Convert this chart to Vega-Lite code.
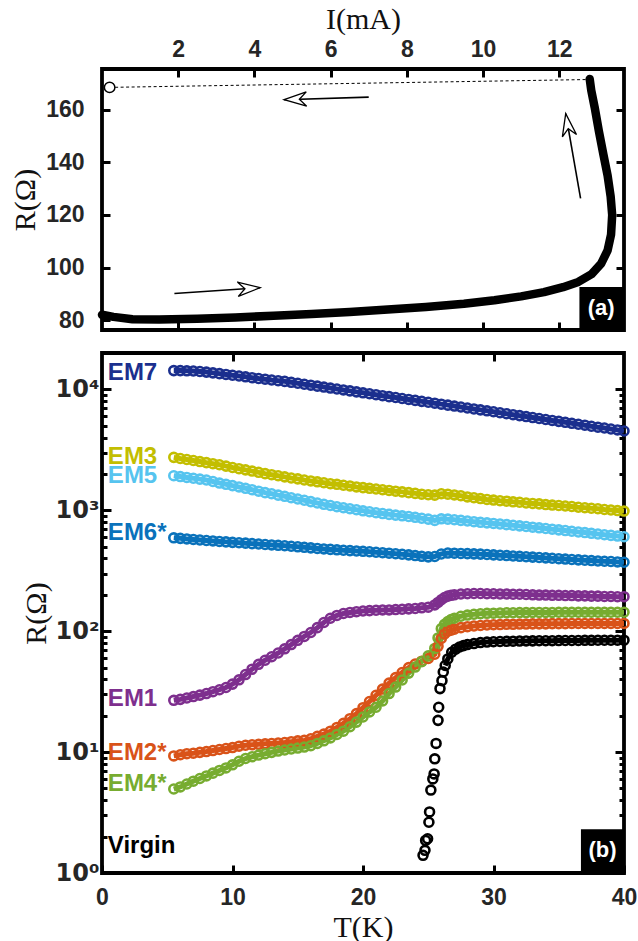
{
 "$schema": "https://vega.github.io/schema/vega-lite/v6.json",
 "background": "white",
 "padding": {"left": 8, "top": 2, "right": 4, "bottom": 2},
 "spacing": 15,
 "config": {
  "view": {"stroke": "black", "strokeWidth": 3.8},
  "axis": {
   "domain": false, "grid": false,
   "labelFont": "Liberation Sans, DejaVu Sans", "labelFontWeight": "bold", "labelFontSize": 23, "labelColor": "#262626",
   "labelFlush": false, "labelOverlap": false,
   "titleFont": "Liberation Serif", "titleFontWeight": "normal", "titleFontSize": 30, "titleColor": "#111111",
   "tickColor": "black", "tickWidth": 3, "tickSize": -8, "labelPadding": 18, "titlePadding": 8
  }
 },
 "datasets": {
  "curve": [
   {"k":0,"I":0,"R":82.0},{"k":1,"I":0.3,"R":81.2},{"k":2,"I":0.8,"R":80.3},{"k":3,"I":1.5,"R":80.2},
   {"k":4,"I":2.5,"R":80.5},{"k":5,"I":3.5,"R":81.0},{"k":6,"I":4.5,"R":81.6},{"k":7,"I":5.5,"R":82.3},
   {"k":8,"I":6.5,"R":83.1},{"k":9,"I":7.5,"R":84.0},{"k":10,"I":8.5,"R":85.0},{"k":11,"I":9.5,"R":86.2},
   {"k":12,"I":10.3,"R":87.5},{"k":13,"I":11.0,"R":89.0},{"k":14,"I":11.6,"R":90.6},{"k":15,"I":12.1,"R":92.5},
   {"k":16,"I":12.5,"R":94.5},{"k":17,"I":12.85,"R":97.5},{"k":18,"I":13.1,"R":101.5},{"k":19,"I":13.27,"R":106.5},
   {"k":20,"I":13.36,"R":112.5},{"k":21,"I":13.39,"R":120},{"k":22,"I":13.35,"R":127},{"k":23,"I":13.27,"R":135},
   {"k":24,"I":13.16,"R":143},{"k":25,"I":13.04,"R":152},{"k":26,"I":12.93,"R":161},{"k":27,"I":12.84,"R":167.5},
   {"k":28,"I":12.8,"R":171.8}
  ],
  "dash": [{"I":0.2,"R":168.6},{"I":12.8,"R":171.6}],
  "circ": [{"I":0.2,"R":168.6}],
  "arrows": [
   {"id":"a1","I":7.0,"R":164.9,"I2":4.78,"R2":163.9},
   {"id":"a2","I":1.9,"R":90.1,"I2":4.15,"R2":92.3},
   {"id":"a3","I":12.56,"R":126.3,"I2":12.17,"R2":158.6}
  ],
  "boxa": [{"I":12.53,"I2":13.7,"R":76.2,"R2":92.6,"txt":"(a)","Ic":13.1,"Rc":84.4}],
  "boxb": [{"T":36.7,"T2":40,"R":1,"R2":2.3,"txt":"(b)","Tc":38.35,"Rc":1.55}],
  "labels": [
   {"key":"EM7","txt":"EM7","T":0.45,"R":13740},
   {"key":"EM3","txt":"EM3","T":0.45,"R":2750},
   {"key":"EM5","txt":"EM5","T":0.45,"R":1935},
   {"key":"EM6","txt":"EM6*","T":0.45,"R":653},
   {"key":"EM1","txt":"EM1","T":0.45,"R":27.4},
   {"key":"EM2","txt":"EM2*","T":0.45,"R":9.77},
   {"key":"EM4","txt":"EM4*","T":0.45,"R":5.46},
   {"key":"Virgin","txt":"Virgin","T":0.45,"R":1.67}
  ],
  "em": [
   {"T":5.5,"EM7":14300,"EM3":2740,"EM5":1930,"EM6":592,"EM1":26.8,"EM2":9.3,"EM4":4.95},
   {"T":6,"EM7":14300,"EM3":2680,"EM5":1900,"EM6":586,"EM1":27.3,"EM2":9.5,"EM4":5.15},
   {"T":6.5,"EM7":14250,"EM3":2630,"EM5":1870,"EM6":580,"EM1":28.0,"EM2":9.7,"EM4":5.45},
   {"T":7,"EM7":14200,"EM3":2580,"EM5":1840,"EM6":574,"EM1":28.8,"EM2":9.8,"EM4":5.75},
   {"T":7.5,"EM7":14050,"EM3":2530,"EM5":1810,"EM6":568,"EM1":29.6,"EM2":9.95,"EM4":6.05},
   {"T":8,"EM7":13900,"EM3":2480,"EM5":1780,"EM6":563,"EM1":30.5,"EM2":10.1,"EM4":6.35},
   {"T":8.5,"EM7":13700,"EM3":2430,"EM5":1730,"EM6":558,"EM1":31.6,"EM2":10.3,"EM4":6.7},
   {"T":9,"EM7":13500,"EM3":2380,"EM5":1680,"EM6":553,"EM1":32.8,"EM2":10.5,"EM4":7.05},
   {"T":9.5,"EM7":13300,"EM3":2320,"EM5":1640,"EM6":548,"EM1":34.2,"EM2":10.7,"EM4":7.4},
   {"T":10,"EM7":13100,"EM3":2260,"EM5":1600,"EM6":543,"EM1":36.5,"EM2":10.9,"EM4":7.85},
   {"T":10.5,"EM7":12900,"EM3":2210,"EM5":1560,"EM6":539,"EM1":39.6,"EM2":11.2,"EM4":8.4},
   {"T":11,"EM7":12700,"EM3":2160,"EM5":1520,"EM6":535,"EM1":43.8,"EM2":11.4,"EM4":8.85},
   {"T":11.5,"EM7":12500,"EM3":2110,"EM5":1480,"EM6":530,"EM1":48.5,"EM2":11.5,"EM4":9.15},
   {"T":12,"EM7":12300,"EM3":2060,"EM5":1440,"EM6":526,"EM1":53.2,"EM2":11.6,"EM4":9.45},
   {"T":12.5,"EM7":12150,"EM3":2010,"EM5":1400,"EM6":521,"EM1":57.5,"EM2":11.7,"EM4":9.7},
   {"T":13,"EM7":11950,"EM3":1970,"EM5":1370,"EM6":517,"EM1":61.5,"EM2":11.8,"EM4":9.95},
   {"T":13.5,"EM7":11800,"EM3":1930,"EM5":1335,"EM6":513,"EM1":66.0,"EM2":11.9,"EM4":10.2},
   {"T":14,"EM7":11650,"EM3":1890,"EM5":1305,"EM6":509,"EM1":71.5,"EM2":12.0,"EM4":10.4},
   {"T":14.5,"EM7":11440,"EM3":1850,"EM5":1270,"EM6":504,"EM1":77.5,"EM2":12.2,"EM4":10.6},
   {"T":15,"EM7":11240,"EM3":1820,"EM5":1240,"EM6":499,"EM1":84.0,"EM2":12.4,"EM4":10.8},
   {"T":15.5,"EM7":11030,"EM3":1780,"EM5":1210,"EM6":494,"EM1":90.5,"EM2":12.5,"EM4":11.0},
   {"T":16,"EM7":10840,"EM3":1750,"EM5":1180,"EM6":489,"EM1":97.5,"EM2":12.9,"EM4":11.3},
   {"T":16.5,"EM7":10640,"EM3":1720,"EM5":1150,"EM6":484,"EM1":107,"EM2":13.5,"EM4":11.8},
   {"T":17,"EM7":10450,"EM3":1690,"EM5":1120,"EM6":479,"EM1":118,"EM2":14.1,"EM4":12.4},
   {"T":17.5,"EM7":10260,"EM3":1660,"EM5":1095,"EM6":475,"EM1":128,"EM2":14.9,"EM4":13.1},
   {"T":18,"EM7":10080,"EM3":1640,"EM5":1070,"EM6":471,"EM1":135,"EM2":16.0,"EM4":14.0},
   {"T":18.5,"EM7":9900,"EM3":1610,"EM5":1050,"EM6":467,"EM1":140,"EM2":17.3,"EM4":14.9},
   {"T":19,"EM7":9720,"EM3":1590,"EM5":1030,"EM6":464,"EM1":143,"EM2":18.9,"EM4":16.2},
   {"T":19.5,"EM7":9540,"EM3":1560,"EM5":1010,"EM6":461,"EM1":145,"EM2":20.8,"EM4":17.7},
   {"T":20,"EM7":9370,"EM3":1540,"EM5":990,"EM6":458,"EM1":147,"EM2":23.3,"EM4":19.5},
   {"T":20.5,"EM7":9200,"EM3":1520,"EM5":972,"EM6":454,"EM1":148,"EM2":26.2,"EM4":21.5},
   {"T":21,"EM7":9040,"EM3":1500,"EM5":955,"EM6":450,"EM1":149,"EM2":29.5,"EM4":23.5},
   {"T":21.5,"EM7":8870,"EM3":1480,"EM5":940,"EM6":446,"EM1":150,"EM2":33.2,"EM4":26.5},
   {"T":22,"EM7":8710,"EM3":1460,"EM5":925,"EM6":442,"EM1":150,"EM2":37.2,"EM4":30.5},
   {"T":22.5,"EM7":8570,"EM3":1440,"EM5":912,"EM6":437,"EM1":151,"EM2":41.3,"EM4":34.5},
   {"T":23,"EM7":8410,"EM3":1420,"EM5":900,"EM6":433,"EM1":152,"EM2":45.5,"EM4":39.5},
   {"T":23.5,"EM7":8260,"EM3":1400,"EM5":888,"EM6":428,"EM1":153,"EM2":50.0,"EM4":45.0},
   {"T":24,"EM7":8110,"EM3":1380,"EM5":875,"EM6":422,"EM1":154,"EM2":53.5,"EM4":50.5},
   {"T":24.5,"EM7":7960,"EM3":1360,"EM5":860,"EM6":416,"EM1":156,"EM2":56.5,"EM4":56.0},
   {"T":25,"EM7":7830,"EM3":1345,"EM5":845,"EM6":412,"EM1":158,"EM2":59.5,"EM4":62.5},
   {"T":25.5,"EM7":7690,"EM3":1335,"EM5":825,"EM6":415,"EM1":165,"EM2":64.5,"EM4":72.0},
   {"T":25.75,"EM1":173,"EM2":75,"EM4":88},
   {"T":26,"EM7":7550,"EM3":1370,"EM5":850,"EM6":435,"EM1":182,"EM2":87,"EM4":105},
   {"T":26.25,"EM1":190,"EM2":95,"EM4":114},
   {"T":26.5,"EM7":7410,"EM3":1360,"EM5":845,"EM6":443,"EM1":195,"EM2":100,"EM4":120},
   {"T":26.75,"EM1":198,"EM2":102,"EM4":125},
   {"T":27,"EM7":7280,"EM3":1340,"EM5":835,"EM6":442,"EM1":200,"EM2":104,"EM4":128},
   {"T":27.5,"EM7":7150,"EM3":1320,"EM5":825,"EM6":440,"EM1":203,"EM2":107,"EM4":133},
   {"T":28,"EM7":7020,"EM3":1290,"EM5":815,"EM6":438,"EM1":204,"EM2":109,"EM4":136},
   {"T":28.5,"EM7":6890,"EM3":1270,"EM5":805,"EM6":436,"EM1":205,"EM2":110.5,"EM4":138},
   {"T":29,"EM7":6770,"EM3":1250,"EM5":795,"EM6":434,"EM1":205,"EM2":111.5,"EM4":139.5},
   {"T":29.5,"EM7":6650,"EM3":1230,"EM5":787,"EM6":431,"EM1":204,"EM2":112.5,"EM4":140.5},
   {"T":30,"EM7":6530,"EM3":1215,"EM5":779,"EM6":428,"EM1":204,"EM2":113,"EM4":141},
   {"T":30.5,"EM7":6410,"EM3":1200,"EM5":770,"EM6":425,"EM1":203,"EM2":113.5,"EM4":141.5},
   {"T":31,"EM7":6290,"EM3":1190,"EM5":761,"EM6":422,"EM1":203,"EM2":114,"EM4":142},
   {"T":31.5,"EM7":6180,"EM3":1175,"EM5":752,"EM6":419,"EM1":202,"EM2":114,"EM4":142},
   {"T":32,"EM7":6070,"EM3":1165,"EM5":743,"EM6":416,"EM1":202,"EM2":114.5,"EM4":142.5},
   {"T":32.5,"EM7":5960,"EM3":1150,"EM5":734,"EM6":413,"EM1":201,"EM2":114.5,"EM4":142.5},
   {"T":33,"EM7":5850,"EM3":1140,"EM5":725,"EM6":410,"EM1":200,"EM2":115,"EM4":143},
   {"T":33.5,"EM7":5740,"EM3":1130,"EM5":716,"EM6":407,"EM1":199,"EM2":115,"EM4":143},
   {"T":34,"EM7":5640,"EM3":1115,"EM5":707,"EM6":404,"EM1":199,"EM2":115,"EM4":143},
   {"T":34.5,"EM7":5540,"EM3":1105,"EM5":698,"EM6":401,"EM1":198,"EM2":115.5,"EM4":143},
   {"T":35,"EM7":5440,"EM3":1095,"EM5":689,"EM6":398,"EM1":198,"EM2":115.5,"EM4":143.5},
   {"T":35.5,"EM7":5340,"EM3":1085,"EM5":680,"EM6":395,"EM1":197,"EM2":115.5,"EM4":143.5},
   {"T":36,"EM7":5240,"EM3":1075,"EM5":671,"EM6":392,"EM1":197,"EM2":116,"EM4":143.5},
   {"T":36.5,"EM7":5150,"EM3":1060,"EM5":662,"EM6":389,"EM1":196,"EM2":116,"EM4":143.5},
   {"T":37,"EM7":5060,"EM3":1050,"EM5":654,"EM6":386,"EM1":196,"EM2":116,"EM4":143.5},
   {"T":37.5,"EM7":4960,"EM3":1040,"EM5":645,"EM6":384,"EM1":195,"EM2":116,"EM4":143.5},
   {"T":38,"EM7":4870,"EM3":1030,"EM5":637,"EM6":381,"EM1":195,"EM2":116,"EM4":143.5},
   {"T":38.5,"EM7":4790,"EM3":1015,"EM5":628,"EM6":379,"EM1":194,"EM2":116,"EM4":143.5},
   {"T":39,"EM7":4700,"EM3":1005,"EM5":620,"EM6":377,"EM1":194,"EM2":116,"EM4":143.5},
   {"T":39.5,"EM7":4620,"EM3":995,"EM5":612,"EM6":374,"EM1":193,"EM2":116,"EM4":143.5},
   {"T":40,"EM7":4530,"EM3":985,"EM5":604,"EM6":372,"EM1":193,"EM2":116,"EM4":143.5}
  ],
  "virgin": [
   {"T":24.6,"R":1.40},{"T":24.75,"R":1.54},{"T":24.8,"R":1.86},{"T":24.95,"R":1.92},{"T":25.05,"R":2.63},
   {"T":25.1,"R":3.2},{"T":25.2,"R":4.85},{"T":25.35,"R":6.0},{"T":25.45,"R":6.6},{"T":25.5,"R":8.8},
   {"T":25.6,"R":11.8},{"T":25.75,"R":18.3},{"T":25.8,"R":23.5},{"T":25.9,"R":33.5},{"T":26.05,"R":39},
   {"T":26.15,"R":46},{"T":26.3,"R":52},{"T":26.5,"R":59},{"T":26.8,"R":67},{"T":27.1,"R":71},
   {"T":27.4,"R":74},{"T":27.7,"R":76},{"T":28,"R":77.5},{"T":28.5,"R":79},{"T":29,"R":80.5},
   {"T":29.5,"R":81.3},{"T":30,"R":81.8},{"T":30.5,"R":82.2},{"T":31,"R":82.5},{"T":31.5,"R":82.7},
   {"T":32,"R":82.9},{"T":32.5,"R":83.1},{"T":33,"R":83.2},{"T":33.5,"R":83.3},{"T":34,"R":83.4},
   {"T":34.5,"R":83.5},{"T":35,"R":83.6},{"T":35.5,"R":83.7},{"T":36,"R":83.8},{"T":36.5,"R":83.9},
   {"T":37,"R":84.0},{"T":37.5,"R":84.0},{"T":38,"R":84.1},{"T":38.5,"R":84.2},{"T":39,"R":84.2},
   {"T":39.5,"R":84.3},{"T":40,"R":84.3}
  ]
 },
 "vconcat": [
  {
   "width": 522, "height": 261,
   "resolve": {"axis": {"x": "independent", "y": "independent"}},
   "layer": [
    {
     "data": {"name": "dash"},
     "mark": {"type": "line", "strokeDash": [3, 2.5], "strokeWidth": 1, "color": "black"},
     "encoding": {
      "x": {"field": "I", "type": "quantitative", "scale": {"domain": [0, 13.7], "nice": false, "zero": false},
            "axis": {"orient": "bottom", "values": [2, 4, 6, 8, 10, 12], "labels": false, "title": null}},
      "y": {"field": "R", "type": "quantitative", "scale": {"domain": [76.2, 175.6], "nice": false, "zero": false},
            "axis": {"orient": "right", "values": [80, 100, 120, 140, 160], "labels": false, "title": null}}
     }
    },
    {
     "data": {"name": "curve"},
     "mark": {"type": "line", "strokeWidth": 8.5, "strokeCap": "round", "strokeJoin": "round", "color": "black"},
     "encoding": {
      "x": {"field": "I", "type": "quantitative", "scale": {"domain": [0, 13.7], "nice": false, "zero": false},
            "axis": {"orient": "top", "values": [2, 4, 6, 8, 10, 12], "title": "I(mA)", "labelPadding": 16, "titlePadding": 4}},
      "y": {"field": "R", "type": "quantitative", "scale": {"domain": [76.2, 175.6], "nice": false, "zero": false},
            "axis": {"orient": "left", "values": [80, 100, 120, 140, 160], "title": "R(Ω)", "labelPadding": 26, "titlePadding": 5}},
      "order": {"field": "k", "type": "quantitative"}
     }
    },
    {
     "data": {"name": "circ"},
     "mark": {"type": "point", "shape": "circle", "filled": true, "fill": "white", "stroke": "black", "strokeWidth": 1.5, "size": 110, "opacity": 1},
     "encoding": {
      "x": {"field": "I", "type": "quantitative", "scale": {"domain": [0, 13.7], "nice": false, "zero": false}, "axis": null},
      "y": {"field": "R", "type": "quantitative", "scale": {"domain": [76.2, 175.6], "nice": false, "zero": false}, "axis": null}
     }
    },
    {
     "data": {"name": "arrows"},
     "mark": {"type": "rule", "strokeWidth": 1.6, "color": "black"},
     "encoding": {
      "x": {"field": "I", "type": "quantitative", "scale": {"domain": [0, 13.7], "nice": false, "zero": false}, "axis": null},
      "y": {"field": "R", "type": "quantitative", "scale": {"domain": [76.2, 175.6], "nice": false, "zero": false}, "axis": null},
      "x2": {"field": "I2"},
      "y2": {"field": "R2"}
     }
    },
    {
     "data": {"name": "arrows"},
     "transform": [{"filter": "datum.id == 'a1'"}],
     "mark": {"type": "point", "shape": "M0,0L0.32,1L0,0.68L-0.32,1Z", "angle": 268.2, "size": 2000, "filled": true, "fill": "white", "stroke": "black", "strokeWidth": 1.3, "opacity": 1},
     "encoding": {
      "x": {"field": "I2", "type": "quantitative", "scale": {"domain": [0, 13.7], "nice": false, "zero": false}, "axis": null},
      "y": {"field": "R2", "type": "quantitative", "scale": {"domain": [76.2, 175.6], "nice": false, "zero": false}, "axis": null}
     }
    },
    {
     "data": {"name": "arrows"},
     "transform": [{"filter": "datum.id == 'a2'"}],
     "mark": {"type": "point", "shape": "M0,0L0.32,1L0,0.68L-0.32,1Z", "angle": 86.2, "size": 2000, "filled": true, "fill": "white", "stroke": "black", "strokeWidth": 1.3, "opacity": 1},
     "encoding": {
      "x": {"field": "I2", "type": "quantitative", "scale": {"domain": [0, 13.7], "nice": false, "zero": false}, "axis": null},
      "y": {"field": "R2", "type": "quantitative", "scale": {"domain": [76.2, 175.6], "nice": false, "zero": false}, "axis": null}
     }
    },
    {
     "data": {"name": "arrows"},
     "transform": [{"filter": "datum.id == 'a3'"}],
     "mark": {"type": "point", "shape": "M0,0L0.32,1L0,0.68L-0.32,1Z", "angle": 350.4, "size": 2000, "filled": true, "fill": "white", "stroke": "black", "strokeWidth": 1.3, "opacity": 1},
     "encoding": {
      "x": {"field": "I2", "type": "quantitative", "scale": {"domain": [0, 13.7], "nice": false, "zero": false}, "axis": null},
      "y": {"field": "R2", "type": "quantitative", "scale": {"domain": [76.2, 175.6], "nice": false, "zero": false}, "axis": null}
     }
    },
    {
     "data": {"name": "boxa"},
     "mark": {"type": "rect", "color": "black"},
     "encoding": {
      "x": {"field": "I", "type": "quantitative", "scale": {"domain": [0, 13.7], "nice": false, "zero": false}, "axis": null},
      "y": {"field": "R", "type": "quantitative", "scale": {"domain": [76.2, 175.6], "nice": false, "zero": false}, "axis": null},
      "x2": {"field": "I2"},
      "y2": {"field": "R2"}
     }
    },
    {
     "data": {"name": "boxa"},
     "mark": {"type": "text", "color": "white", "font": "Liberation Sans", "fontWeight": "bold", "fontSize": 22, "align": "center", "baseline": "middle"},
     "encoding": {
      "x": {"field": "Ic", "type": "quantitative", "scale": {"domain": [0, 13.7], "nice": false, "zero": false}, "axis": null},
      "y": {"field": "Rc", "type": "quantitative", "scale": {"domain": [76.2, 175.6], "nice": false, "zero": false}, "axis": null},
      "text": {"field": "txt"}
     }
    }
   ]
  },
  {
   "width": 522, "height": 520,
   "resolve": {"axis": {"x": "independent", "y": "independent"}},
   "layer": [
    {
     "data": {"name": "em"},
     "transform": [{"fold": ["EM7", "EM3", "EM5", "EM6", "EM1", "EM2", "EM4"], "as": ["key", "R"]}, {"filter": "isValid(datum.R)"}],
     "mark": {"type": "line", "strokeWidth": 5},
     "encoding": {
      "x": {"field": "T", "type": "quantitative", "scale": {"domain": [0, 40], "nice": false, "zero": false},
            "axis": {"orient": "bottom", "values": [0, 10, 20, 30, 40], "title": "T(K)", "labelPadding": 21, "titlePadding": 3}},
      "y": {"field": "R", "type": "quantitative", "scale": {"type": "log", "domain": [1, 20000], "nice": false},
            "axis": {"orient": "left", "values": [1,2,3,4,5,6,7,8,9,10,20,30,40,50,60,70,80,90,100,200,300,400,500,600,700,800,900,1000,2000,3000,4000,5000,6000,7000,8000,9000,10000],
                     "labelExpr": "datum.value == 1 ? '10⁰' : datum.value == 10 ? '10¹' : datum.value == 100 ? '10²' : datum.value == 1000 ? '10³' : datum.value == 10000 ? '10⁴' : ''",
                     "labelFont": "DejaVu Sans", "labelFontSize": 24,
                     "tickSize": {"condition": {"test": "datum.value == 1 || datum.value == 10 || datum.value == 100 || datum.value == 1000 || datum.value == 10000", "value": -9}, "value": -5},
                     "title": "R(Ω)", "labelPadding": 12, "titlePadding": 4}},
      "color": {"field": "key", "type": "nominal", "legend": null,
                "scale": {"domain": ["EM7", "EM3", "EM5", "EM6", "EM1", "EM2", "EM4", "Virgin"],
                          "range": ["#1b2f8e", "#c3be00", "#56c4ef", "#0a72bb", "#7e2f8e", "#d95319", "#77ac30", "#000000"]}}
     }
    },
    {
     "data": {"name": "em"},
     "transform": [{"fold": ["EM7", "EM3", "EM5", "EM6", "EM1", "EM2", "EM4"], "as": ["key", "R"]}, {"filter": "isValid(datum.R)"}],
     "mark": {"type": "point", "shape": "circle", "filled": false, "strokeWidth": 2.6, "size": 80, "opacity": 1},
     "encoding": {
      "x": {"field": "T", "type": "quantitative", "scale": {"domain": [0, 40], "nice": false, "zero": false},
            "axis": {"orient": "top", "values": [10, 20, 30], "labels": false, "title": null}},
      "y": {"field": "R", "type": "quantitative", "scale": {"type": "log", "domain": [1, 20000], "nice": false},
            "axis": {"orient": "right", "values": [1,2,3,4,5,6,7,8,9,10,20,30,40,50,60,70,80,90,100,200,300,400,500,600,700,800,900,1000,2000,3000,4000,5000,6000,7000,8000,9000,10000],
                     "labels": false, "title": null,
                     "tickSize": {"condition": {"test": "datum.value == 1 || datum.value == 10 || datum.value == 100 || datum.value == 1000 || datum.value == 10000", "value": -9}, "value": -5}}},
      "color": {"field": "key", "type": "nominal", "legend": null}
     }
    },
    {
     "data": {"name": "virgin"},
     "transform": [{"filter": "datum.T >= 26.3"}],
     "mark": {"type": "line", "strokeWidth": 5, "color": "black"},
     "encoding": {
      "x": {"field": "T", "type": "quantitative", "scale": {"domain": [0, 40], "nice": false, "zero": false}, "axis": null},
      "y": {"field": "R", "type": "quantitative", "scale": {"type": "log", "domain": [1, 20000], "nice": false}, "axis": null}
     }
    },
    {
     "data": {"name": "virgin"},
     "mark": {"type": "point", "shape": "circle", "filled": false, "strokeWidth": 2.6, "size": 80, "color": "black", "opacity": 1},
     "encoding": {
      "x": {"field": "T", "type": "quantitative", "scale": {"domain": [0, 40], "nice": false, "zero": false}, "axis": null},
      "y": {"field": "R", "type": "quantitative", "scale": {"type": "log", "domain": [1, 20000], "nice": false}, "axis": null}
     }
    },
    {
     "data": {"name": "labels"},
     "mark": {"type": "text", "font": "Liberation Sans", "fontWeight": "bold", "fontSize": 24, "align": "left", "baseline": "middle"},
     "encoding": {
      "x": {"field": "T", "type": "quantitative", "scale": {"domain": [0, 40], "nice": false, "zero": false}, "axis": null},
      "y": {"field": "R", "type": "quantitative", "scale": {"type": "log", "domain": [1, 20000], "nice": false}, "axis": null},
      "text": {"field": "txt"},
      "color": {"field": "key", "type": "nominal", "legend": null}
     }
    },
    {
     "data": {"name": "boxb"},
     "mark": {"type": "rect", "color": "black"},
     "encoding": {
      "x": {"field": "T", "type": "quantitative", "scale": {"domain": [0, 40], "nice": false, "zero": false}, "axis": null},
      "y": {"field": "R", "type": "quantitative", "scale": {"type": "log", "domain": [1, 20000], "nice": false}, "axis": null},
      "x2": {"field": "T2"},
      "y2": {"field": "R2"}
     }
    },
    {
     "data": {"name": "boxb"},
     "mark": {"type": "text", "color": "white", "font": "Liberation Sans", "fontWeight": "bold", "fontSize": 22, "align": "center", "baseline": "middle"},
     "encoding": {
      "x": {"field": "Tc", "type": "quantitative", "scale": {"domain": [0, 40], "nice": false, "zero": false}, "axis": null},
      "y": {"field": "Rc", "type": "quantitative", "scale": {"type": "log", "domain": [1, 20000], "nice": false}, "axis": null},
      "text": {"field": "txt"}
     }
    }
   ]
  }
 ]
}
